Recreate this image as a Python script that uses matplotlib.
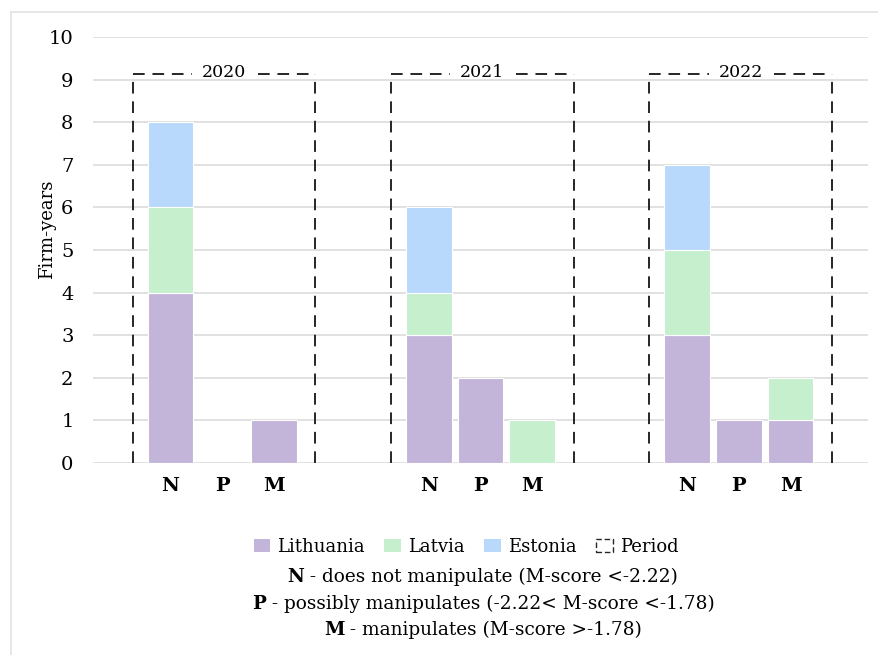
import matplotlib
matplotlib.use("Agg")
import matplotlib.pyplot as plt
from matplotlib.lines import Line2D
from matplotlib.patches import Patch, Rectangle
import numpy as np

plt.rcParams['font.family'] = ['DejaVu Serif']

years = ["2020", "2021", "2022"]
categories = ["N", "P", "M"]
countries = ["Lithuania", "Latvia", "Estonia"]
colors = ["#C3B5D9", "#C6EFCE", "#B8D9FC"]

# values per year: [N, P, M]
lithuania = [[4, 0, 1], [3, 2, 0], [3, 1, 1]]
latvia = [[2, 0, 0], [1, 0, 1], [2, 0, 1]]
estonia = [[2, 0, 0], [2, 0, 0], [2, 0, 0]]
series = [lithuania, latvia, estonia]

notes = [("N", " - does not manipulate (M-score <-2.22)"),
         ("P", " - possibly manipulates (-2.22< M-score <-1.78)"),
         ("M", " - manipulates (M-score >-1.78)")]

W, H = 879, 655
fig = plt.figure(figsize=(W / 100, H / 100), dpi=100)
ax = fig.add_axes([93 / W, 1 - 463 / H, (868 - 93) / W, (463 - 37) / H])

group_start = [1, 6, 11]
xpos, xlabels = [], []
for gi, g in enumerate(years):
    for ci, c in enumerate(categories):
        x = group_start[gi] + ci
        bottom = 0
        for si, s in enumerate(series):
            v = s[gi][ci]
            if v:
                ax.bar(x, v, bottom=bottom, width=0.89, color=colors[si],
                       edgecolor="white", linewidth=0.8, zorder=3)
            bottom += v
        xpos.append(x)
        xlabels.append(c)

ax.set_xlim(-0.5, 14.5)
ax.set_ylim(0, 10)
ax.set_yticks(range(0, 11))
ax.yaxis.grid(True, color="#D9D9D9", linewidth=1.1, zorder=0)
ax.set_axisbelow(True)
for sp in ax.spines.values():
    sp.set_visible(False)
ax.set_xticks(xpos)
ax.set_xticklabels(xlabels, fontweight="bold", fontsize=14)
ax.tick_params(axis="y", length=0, pad=14, labelsize=14)
ax.tick_params(axis="x", length=0, pad=10)

# period boxes
dash = dict(color="#262626", linewidth=1.4, linestyle=(0, (6, 4)), clip_on=False, zorder=4)
top = 9.13
for gi, g in enumerate(years):
    left = group_start[gi] - 0.73
    right = group_start[gi] + 2.8
    mid = (left + right) / 2
    ax.add_line(Line2D([left, left], [0, top], **dash))
    ax.add_line(Line2D([right, right], [0, top], **dash))
    ax.add_line(Line2D([left, mid - 0.62], [top, top], **dash))
    ax.add_line(Line2D([mid + 0.65, right], [top, top], **dash))
    ax.text(mid, top + 0.04, g, ha="center", va="center", fontsize=12.5, zorder=5)

fig.text(47 / W, 1 - 229 / H, "Firm-years", rotation=90, ha="center", va="center", fontsize=13)

# legend
handles = [Patch(facecolor=colors[i], edgecolor="none", label=countries[i]) for i in range(3)]
handles.append(Rectangle((0, 0), 1, 1, facecolor="none", edgecolor="#262626",
                         linestyle=(0, (4, 2)), linewidth=1.0, label="Period"))
fig.legend(handles=handles, loc="center", bbox_to_anchor=(466 / W, 1 - 547 / H), ncol=4,
           frameon=False, fontsize=13, handlelength=0.9, handleheight=0.7,
           handletextpad=0.4, columnspacing=1.1)

# notes with bold letters
fig.canvas.draw()
renderer = fig.canvas.get_renderer()
ys = [577, 604, 630]
for (b, rest), yy in zip(notes, ys):
    t1 = fig.text(0, 1 - yy / H, b, fontweight="bold", fontsize=13.3, ha="left", va="center")
    t2 = fig.text(0, 1 - yy / H, rest, fontsize=13.3, ha="left", va="center")
    w1 = t1.get_window_extent(renderer).width
    w2 = t2.get_window_extent(renderer).width
    x0 = 483 - (w1 + w2) / 2
    t1.set_x(x0 / W)
    t2.set_x((x0 + w1) / W)

# outer light border (top and left)
fig.add_artist(Line2D([11 / W, 1], [1 - 12 / H, 1 - 12 / H], color="#E3E3E3", linewidth=1.2))
fig.add_artist(Line2D([11 / W, 11 / W], [0, 1 - 12 / H], color="#E3E3E3", linewidth=1.2))

fig.savefig("out.png", dpi=100)
